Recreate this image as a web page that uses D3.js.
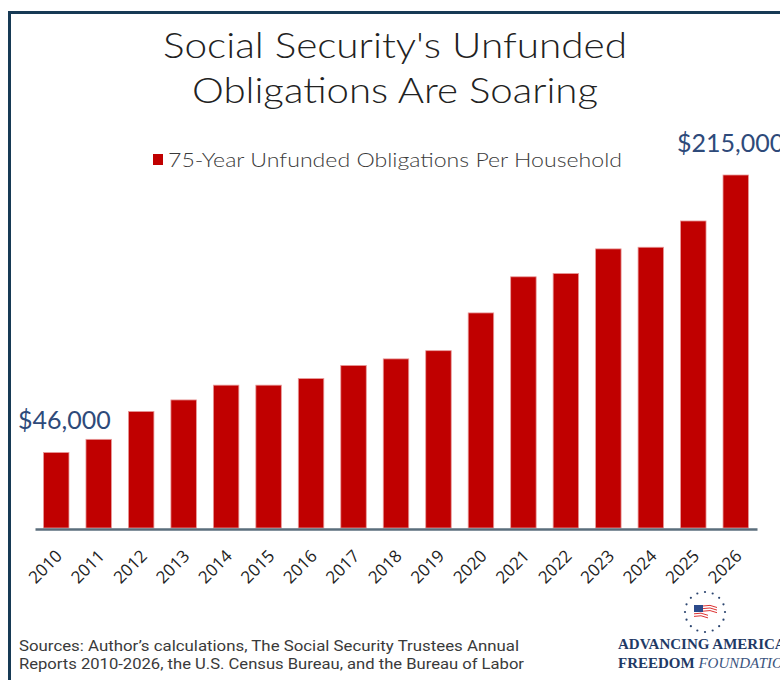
<!DOCTYPE html>
<html><head><meta charset="utf-8">
<script src="https://cdn.jsdelivr.net/npm/d3@7"></script>
<style>html,body{margin:0;padding:0;background:#fff;overflow:hidden}</style>
</head><body>
<script>
const years = ["2010","2011","2012","2013","2014","2015","2016","2017","2018","2019","2020","2021","2022","2023","2024","2025","2026"];
const values = [46,54,71,78,87,87,91,99,103,108,131,153,155,170,171,187,215]; // $ thousands per household
const titleLines = ["Social Security's Unfunded","Obligations Are Soaring"];
const legendLabel = "75-Year Unfunded Obligations Per Household";
const annotations = [{year:"2010", text:"$46,000"},{year:"2026", text:"$215,000"}];
const sourceLines = ["Sources: Author\u2019s calculations, The Social Security Trustees Annual","Reports 2010-2026, the U.S. Census Bureau, and the Bureau of Labor"];

const W=780,H=680;
const svg=d3.select("body").append("svg").attr("width",W).attr("height",H);
svg.append("rect").attr("width",W).attr("height",H).attr("fill","#fff");
// frame
svg.append("path").attr("d","M9.5,"+H+" L9.5,12.5 L"+W+",12.5").attr("fill","none").attr("stroke","#173a55").attr("stroke-width",3);

const titleFont="Lato, 'Open Sans', sans-serif";
const titleWidths=[464,406];
svg.selectAll("text.title").data(titleLines).join("text").attr("class","title")
  .attr("x",395).attr("y",(d,i)=>58+i*45).attr("text-anchor","middle")
  .attr("font-family",titleFont).attr("font-weight",300).attr("font-size",36).attr("fill","#222")
  .attr("textLength",(d,i)=>titleWidths[i]).attr("lengthAdjust","spacingAndGlyphs").text(d=>d);

// legend
svg.append("rect").attr("x",153).attr("y",154).attr("width",10).attr("height",11).attr("fill","#c00000");
svg.append("text").attr("x",168).attr("y",167).attr("font-family",titleFont).attr("font-weight",300)
  .attr("font-size",20).attr("fill","#3a3a3a").attr("textLength",454).attr("lengthAdjust","spacingAndGlyphs").text(legendLabel);

const x=d3.scaleBand().domain(years).range([35,757]).paddingInner(0.4).paddingOuter(0.2);
const y=d3.scaleLinear().domain([0,215]).range([528,175]);

svg.append("g").selectAll("rect").data(values).join("rect")
  .attr("x",(d,i)=>x(years[i])).attr("width",x.bandwidth())
  .attr("y",d=>y(d)).attr("height",d=>y(0)-y(d))
  .attr("fill","#c00000").attr("stroke","#e89a9a").attr("stroke-width",0.8);

const xAxis=svg.append("g").attr("transform","translate(0,529)").call(d3.axisBottom(x).tickSize(0).tickPadding(0));
xAxis.select(".domain").attr("stroke","#5b6e7c").attr("stroke-width",2.5);
xAxis.selectAll("text").attr("font-family","'Open Sans', sans-serif").attr("font-size",17).attr("fill","#222")
  .attr("text-anchor","end").attr("dy",0)
  .attr("transform","translate(7,28) rotate(-45)");

// annotations
const annX={"2010":18,"2026":677};
svg.selectAll("text.ann").data(annotations).join("text").attr("class","ann")
  .attr("x",d=>annX[d.year]).attr("y",d=>y(values[years.indexOf(d.year)])-23)
  .attr("text-anchor","start").attr("font-family",titleFont).attr("font-weight",400)
  .attr("font-size",25).attr("fill","#2e4a7a").text(d=>d.text);

// sources
svg.selectAll("text.src").data(sourceLines).join("text").attr("class","src")
  .attr("x",19).attr("y",(d,i)=>651+i*18).attr("font-family","'Liberation Sans Narrow', 'Roboto', sans-serif")
  .attr("font-size",15.5).attr("fill","#3a3a3a").attr("textLength",(d,i)=>i===0?500:505).attr("lengthAdjust","spacingAndGlyphs").text(d=>d);

// logo
const lg=svg.append("g");
const cx=705,cy=612,r=20;
d3.range(16).forEach(k=>{const a=k/16*2*Math.PI;lg.append("circle").attr("cx",cx+r*Math.cos(a)).attr("cy",cy+r*Math.sin(a)).attr("r",1.1).attr("fill","#2b4570");});
lg.append("rect").attr("x",694).attr("y",605).attr("width",9).attr("height",7).attr("fill","#2b4a8a");
[0,1,2,3,4].forEach(k=>lg.append("path").attr("d",`M${703-(k>2?9:0)},${606+k*2.6} q7,-2 14,1.5`).attr("stroke","#d33","stroke-width",1.4).attr("fill","none"));
lg.append("text").attr("x",618).attr("y",649).attr("font-family","'Liberation Serif', serif").attr("font-weight","bold")
  .attr("font-size",15).attr("fill","#1f3a66").text("ADVANCING AMERICAN");
const t2=lg.append("text").attr("x",618).attr("y",668).attr("font-family","'Liberation Serif', serif").attr("font-size",15).attr("fill","#1f3a66");
t2.append("tspan").attr("font-weight","bold").text("FREEDOM ");
t2.append("tspan").attr("font-style","italic").attr("fill","#3b5580").text("FOUNDATION");
</script>
</body></html>
